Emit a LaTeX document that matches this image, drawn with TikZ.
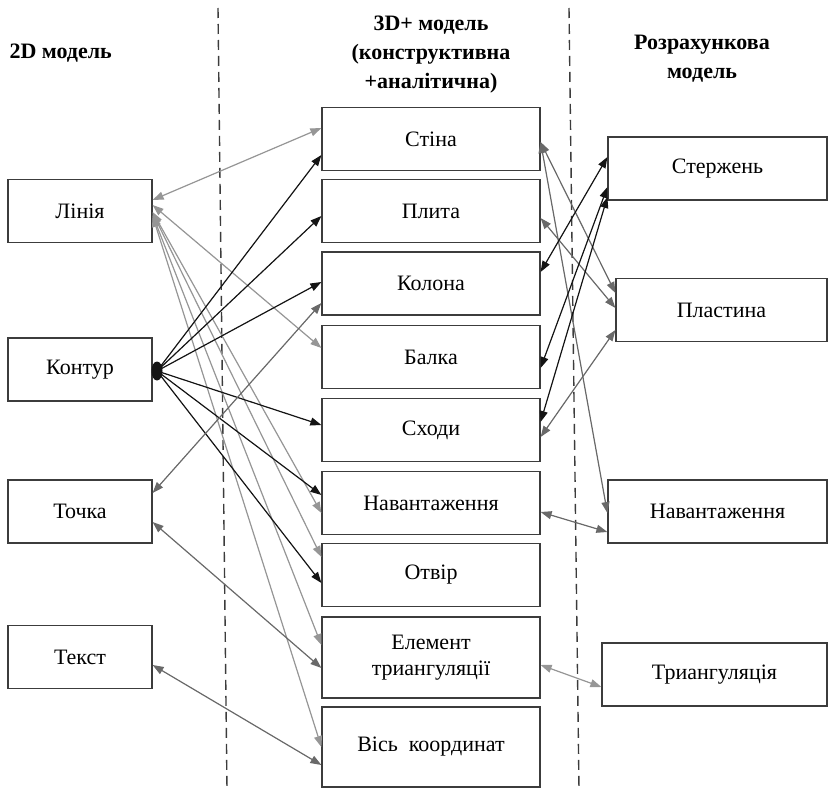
\documentclass[tikz,border=0pt]{standalone}
\usepackage{fontspec}
\setmainfont{Liberation Serif}
\usepackage{xcolor}
\usepackage{tikz}
\usetikzlibrary{
  arrows.meta
}
\definecolor{boxgray}{RGB}{60,60,60}
\definecolor{linkblack}{RGB}{20,20,20}
\definecolor{linkgray}{RGB}{105,105,105}
\definecolor{linklight}{RGB}{150,150,150}

\begin{document}
\begin{tikzpicture}[
  x=1pt, y=-1pt,
  >={Triangle[length=11pt,width=8pt]},
  block/.style={
    rectangle, draw=boxgray, line width=1.2pt, inner sep=0pt,
    minimum height=63pt, font=\fontsize{22}{26}\selectfont, align=center
  },
  leftbox/.style={block, minimum width=144pt},
  midbox/.style={block, minimum width=218pt},
  header/.style={font=\bfseries\fontsize{22}{29}\selectfont, align=center},
  divider/.style={draw=boxgray, line width=1.4pt, dash pattern=on 10pt off 6pt},
  dark/.style={draw=linkblack, fill=linkblack, line width=1.2pt},
  mid/.style={draw=linkgray, fill=linkgray, line width=1.2pt},
  faint/.style={draw=linklight, fill=linklight, line width=1.2pt}
]
  \useasboundingbox (0,0) rectangle (828,789);

  % headers
  \node[header, anchor=west] (h2d) at (6,53) {2D\ модель};
  \node[header] (h3d) at (431,55) {3D+ модель\\(конструктивна\\+аналітична)};
  \node[header] (hcalc) at (702,59) {Розрахункова\\модель};

  % dividers
  \coordinate (d1a) at (218,8);
  \coordinate (d1b) at (227,789);
  \coordinate (d2a) at (569,8);
  \coordinate (d2b) at (579,789);
  \draw[divider] (d1a) -- (d1b);
  \draw[divider] (d2a) -- (d2b);

  % 2D model
  \node[leftbox] (lin) at (80,211) {Лінія};
  \node[leftbox] (kon) at (80,369.5) {Контур};
  \node[leftbox] (toch) at (80,511.5) {Точка};
  \node[leftbox] (tekst) at (80,657) {Текст};

  % 3D+ model
  \node[midbox] (stina) at (431,139) {Стіна};
  \node[midbox] (plyta) at (431,211) {Плита};
  \node[midbox] (kolona) at (431,283.5) {Колона};
  \node[midbox] (balka) at (431,357) {Балка};
  \node[midbox] (skhody) at (431,430) {Сходи};
  \node[midbox] (navm) at (431,503) {Навантаження};
  \node[midbox] (otvir) at (431,575) {Отвір};
  \node[midbox, minimum height=81pt] (elem) at (431,657.5) {Елемент\\триангуляції};
  \node[midbox, minimum height=80pt] (vis) at (431,747) {Вісь\ \ координат};

  % analysis model
  \node[block, minimum width=219pt] (sterzh) at (717.5,168.5) {Стержень};
  \node[block, minimum width=211pt] (plast) at (721.5,310) {Пластина};
  \node[block, minimum width=219pt] (navr) at (717.5,511.5) {Навантаження};
  \node[block, minimum width=225pt] (triang) at (714.5,674.5) {Триангуляція};

  % 2D -> 3D+
  \draw[faint,<->] ([yshift=11pt]lin.east) -- ([yshift=11pt]stina.west);
  \draw[faint,<->] ([yshift=6pt]lin.east) -- ([yshift=9pt]balka.west);
  \draw[faint,<->] ([yshift=-1pt]lin.east) -- ([yshift=-10pt]navm.west);
  \draw[faint,<->] ([yshift=-2pt]lin.east) -- ([yshift=18pt]otvir.west);
  \draw[faint,<->] ([yshift=-4pt]lin.east) -- ([yshift=12.5pt]elem.west);
  \draw[faint,<->] ([yshift=-5pt]lin.east) -- (vis.west);

  \coordinate (hub) at (157,371);
  \fill[linkblack] (hub) ellipse [x radius=5.5pt, y radius=9.5pt];
  \draw[dark,->] (hub) -- ([yshift=-16pt]stina.west);
  \draw[dark,->] (hub) -- ([yshift=-5pt]plyta.west);
  \draw[dark,->] (hub) -- ([yshift=1.5pt]kolona.west);
  \draw[dark,->] (hub) -- ([yshift=5pt]skhody.west);
  \draw[dark,->] (hub) -- ([yshift=8pt]navm.west);
  \draw[dark,->] (hub) -- ([yshift=-8pt]otvir.west);

  \draw[mid,<->] ([yshift=18.5pt]toch.east) -- ([yshift=-19.5pt]kolona.west);
  \draw[mid,<->] ([yshift=-10.5pt]toch.east) -- ([yshift=-10.5pt]elem.west);
  \draw[mid,<->] ([yshift=-8pt]tekst.east) -- ([yshift=-18pt]vis.west);

  % 3D+ -> analysis
  \draw[mid,<->] ([yshift=-3pt]stina.east) -- ([yshift=17pt]plast.west);
  \draw[mid,<->] ([yshift=-3pt]stina.east) -- ([yshift=-1.5pt]navr.west);
  \draw[mid,<->] ([yshift=-7pt]plyta.east) -- ([yshift=2pt]plast.west);
  \draw[dark,<->] ([yshift=11.5pt]sterzh.west) -- ([yshift=11.5pt]kolona.east);
  \draw[dark,<->] ([yshift=-18.5pt]sterzh.west) -- ([yshift=-11pt]balka.east);
  \draw[dark,<->] ([yshift=-28.5pt]sterzh.west) -- ([yshift=8pt]skhody.east);
  \draw[mid,<->] ([yshift=-20pt]plast.west) -- ([yshift=-7pt]skhody.east);
  \draw[mid,<->] ([yshift=-9pt]navm.east) -- ([yshift=-20.5pt]navr.west);
  \draw[faint,<->] ([yshift=-7.5pt]elem.east) -- ([yshift=-12.5pt]triang.west);
\end{tikzpicture}
\end{document}
